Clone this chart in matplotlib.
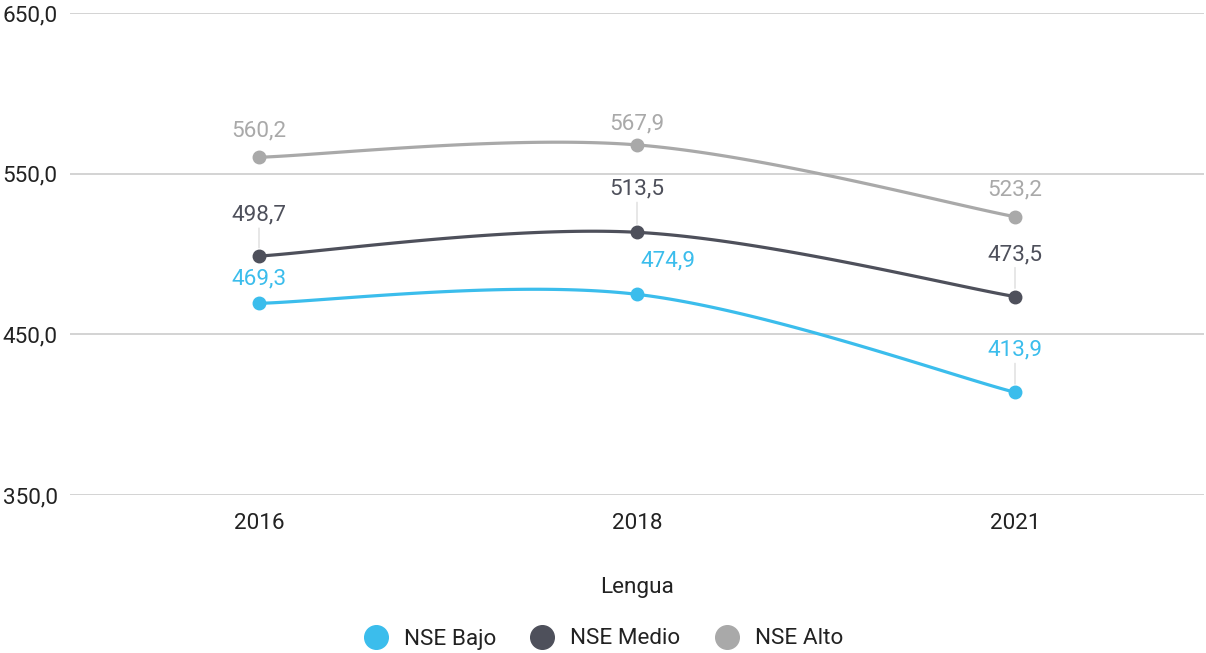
import numpy as np
import matplotlib
matplotlib.use("Agg")
import matplotlib.pyplot as plt
from matplotlib.lines import Line2D

plt.rcParams["font.family"] = ["Roboto", "DejaVu Sans"]

years = ["2016", "2018", "2021"]
series_names = ["NSE Bajo", "NSE Medio", "NSE Alto"]
bajo = [469.3, 474.9, 413.9]
medio = [498.7, 513.5, 473.5]
alto = [560.2, 567.9, 523.2]
y_ticks = [350.0, 450.0, 550.0, 650.0]
x_title = "Lengua"

colors = {"NSE Bajo": "#3bbdec", "NSE Medio": "#4e505b", "NSE Alto": "#a9a9a9"}
# label placement per point: (dx px, dy px, leader line)
label_pos = {
    "NSE Bajo": [(0, 24, False), (31, 33, False), (0, 42, True)],
    "NSE Medio": [(0, 41, True), (0, 43, True), (0, 42, True)],
    "NSE Alto": [(0, 26, False), (0, 21, False), (0, 27, False)],
}
FS = 16.2


def smooth(xs, ys, n=60):
    # cubic bezier segments with catmull-rom style tangents
    xs = np.asarray(xs, float)
    ys = np.asarray(ys, float)
    px, py = [], []
    k = len(xs)
    for i in range(k - 1):
        p0 = np.array([xs[i], ys[i]])
        p1 = np.array([xs[i + 1], ys[i + 1]])
        prev = np.array([xs[i - 1], ys[i - 1]]) if i > 0 else p0
        nxt = np.array([xs[i + 2], ys[i + 2]]) if i + 2 < k else p1
        c1 = p0 + (p1 - prev) / 6.0
        c2 = p1 - (nxt - p0) / 6.0
        t = np.linspace(0, 1, n)[:, None]
        pts = ((1 - t) ** 3) * p0 + 3 * ((1 - t) ** 2) * t * c1 + 3 * (1 - t) * t ** 2 * c2 + t ** 3 * p1
        px.extend(pts[:, 0])
        py.extend(pts[:, 1])
    return np.array(px), np.array(py)


fig = plt.figure(figsize=(12.06, 6.53), dpi=100)
ax = fig.add_axes([70 / 1206, 1 - 495 / 653, 1134 / 1206, (495 - 13) / 653])

x = np.arange(len(years)) + 0.5
data = {"NSE Bajo": bajo, "NSE Medio": medio, "NSE Alto": alto}

for name in ["NSE Alto", "NSE Medio", "NSE Bajo"]:
    vals = data[name]
    c = colors[name]
    sx, sy = smooth(x, vals)
    ax.plot(sx, sy, color=c, lw=2.3, solid_capstyle="round", zorder=3)
    ax.plot(x, vals, "o", color=c, ms=9, zorder=4)
    for xi, v, (dx, dy, lead) in zip(x, vals, label_pos[name]):
        ax.annotate(f"{v:.1f}".replace(".", ","), (xi, v), xytext=(dx * 0.72, dy * 0.72),
                    textcoords="offset points", ha="center", va="center",
                    fontsize=FS, color=c, zorder=5)
        if lead:
            ax.annotate("", (xi, v), xytext=(0, (dy - 13) * 0.72), textcoords="offset points",
                        arrowprops=dict(arrowstyle="-", color="#dddddd", lw=1,
                                        shrinkA=0, shrinkB=6), zorder=2)

ax.set_xlim(0, len(years))
ax.set_ylim(350, 650)
ax.set_yticks(y_ticks)
ax.set_yticklabels([f"{t:.1f}".replace(".", ",") for t in y_ticks])
ax.set_xticks(x)
ax.set_xticklabels(years)
ax.grid(axis="y", color="#cccccc", lw=1.2)
ax.set_axisbelow(True)
for s in ax.spines.values():
    s.set_visible(False)
ax.tick_params(axis="both", length=0, labelsize=FS, labelcolor="#222222")
ax.tick_params(axis="y", pad=48.5)
for lbl in ax.get_yticklabels():
    lbl.set_ha("left")
ax.tick_params(axis="x", pad=13)
ax.set_xlabel(x_title, fontsize=FS, color="#222222", labelpad=31)

handles = [Line2D([], [], marker="o", ls="", ms=17, color=colors[n]) for n in series_names]
fig.legend(handles, series_names, loc="center", bbox_to_anchor=(0.496, 1 - 639 / 653),
           ncol=3, frameon=False, fontsize=FS, handletextpad=0.25, columnspacing=1.05,
           labelcolor="#222222")

fig.savefig("out.png", dpi=100)
